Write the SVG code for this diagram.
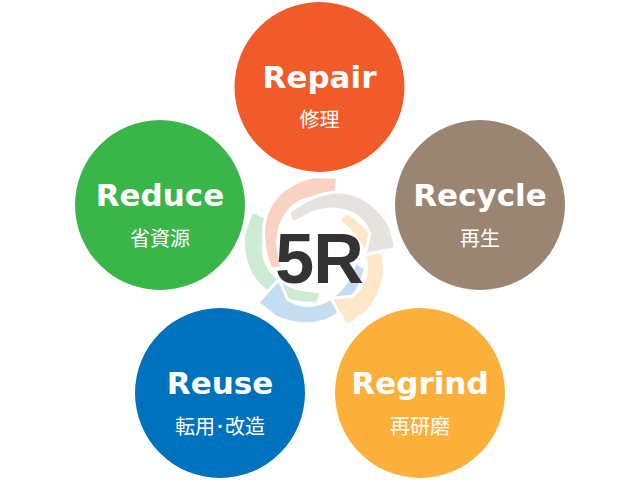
<svg xmlns="http://www.w3.org/2000/svg" width="640" height="480" viewBox="0 0 640 480">
<style>
.lbl{font-family:"DejaVu Sans","Liberation Sans",sans-serif;font-weight:bold;font-size:31px;fill:#fff;text-anchor:middle}
.jp{font-family:"Noto Sans CJK JP","Noto Sans CJK SC",sans-serif;font-size:20px;fill:#fff;text-anchor:middle}
.arr{stroke:#fff;stroke-width:3;stroke-linejoin:miter}
.center{font-family:"Liberation Sans","Arial",sans-serif;font-weight:bold;font-size:70px;fill:#333;text-anchor:middle;letter-spacing:-1px}
</style>
<defs>
<path id="arrow" d="M318,303 C295,304 270,299 256,281 C246,268 242,250 244,233 L252,211 L281,224 L265,238 C259,257 269,280 299,289 L321,292 Z"/>
</defs>
<rect width="640" height="480" fill="#fff"/>
<g id="repair">
<circle cx="319.5" cy="87" r="85" fill="#f15a29"/>
<text class="lbl" x="319.5" y="88">Repair</text>
<text class="jp" x="319.5" y="127">修理</text>
</g>
<g id="recycle">
<circle cx="480" cy="205" r="85" fill="#9a8572"/>
<text class="lbl" x="480" y="206">Recycle</text>
<text class="jp" x="480" y="246">再生</text>
</g>
<g id="reduce">
<circle cx="160" cy="205" r="85" fill="#39b54a"/>
<text class="lbl" x="160" y="206">Reduce</text>
<text class="jp" x="160" y="246">省資源</text>
</g>
<g id="reuse">
<circle cx="220" cy="393" r="85" fill="#0071bc"/>
<text class="lbl" x="220" y="394">Reuse</text>
<text class="jp" x="220" y="434">転用･改造</text>
</g>
<g id="regrind">
<circle cx="420" cy="393" r="85" fill="#fbb03b"/>
<text class="lbl" x="420" y="394">Regrind</text>
<text class="jp" x="420" y="434">再研磨</text>
</g>
<g id="connectors">
<use href="#arrow" class="arr" fill="#cdebd2"/>
<use href="#arrow" class="arr" fill="#fad2c4" transform="rotate(72 318 253)"/>
<use href="#arrow" class="arr" fill="#c4ddf0" transform="rotate(288 318 253)"/>
<use href="#arrow" class="arr" fill="#fde7c8" transform="rotate(216 318 253)"/>
<use href="#arrow" class="arr" fill="#e6e2de" transform="rotate(144 318 253)"/>
</g>
<g id="center">
<text class="center" x="319" y="283">5R</text>
</g>
</svg>
